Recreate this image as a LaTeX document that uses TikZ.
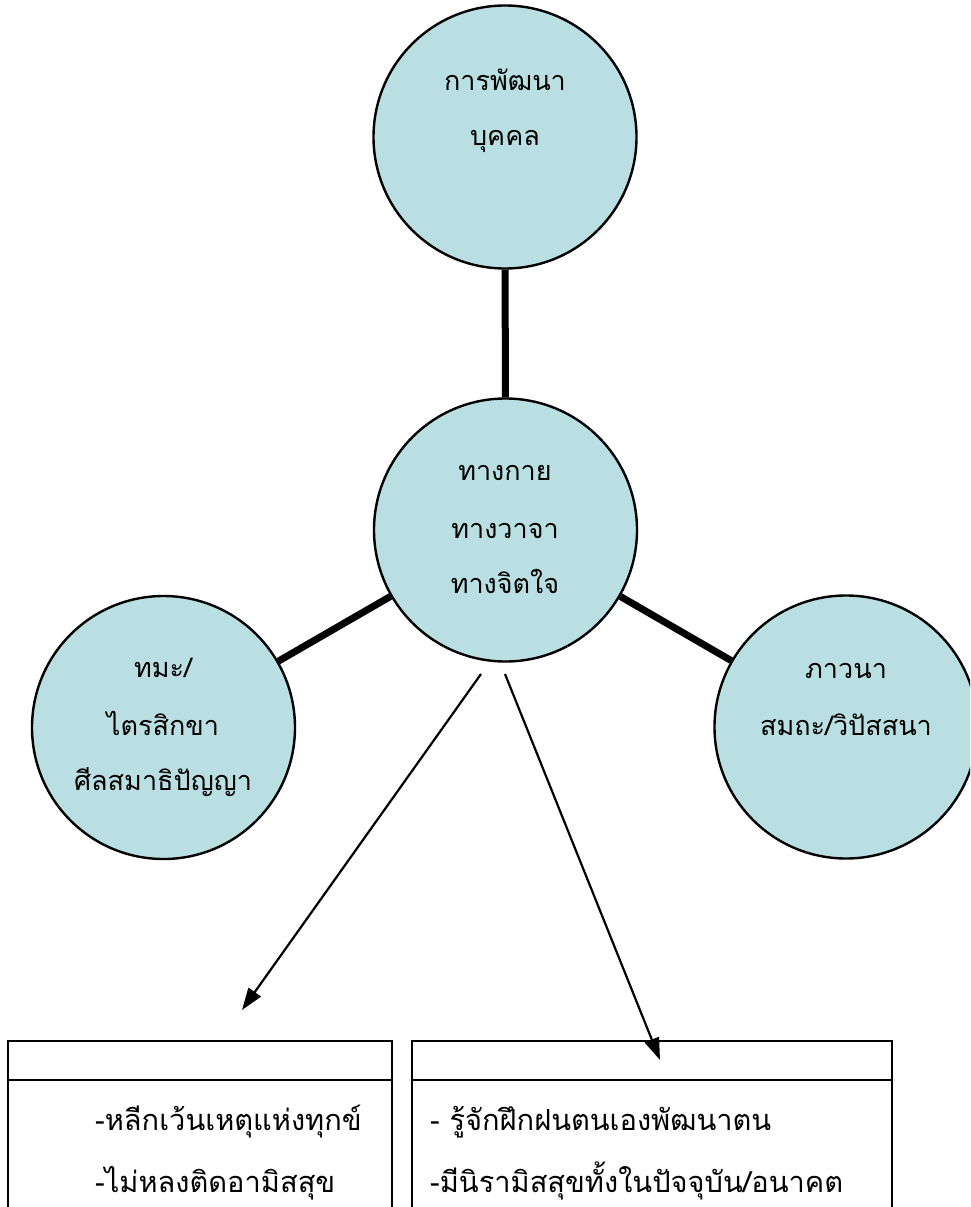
\documentclass[tikz,border=0pt]{standalone}
\usepackage{fontspec}
\newfontfamily\thaifont[Script=Thai]{Loma}
\usetikzlibrary{arrows.meta}
\definecolor{circfill}{RGB}{186,223,227}
\tikzset{
  bubble/.style={circle, draw=black, line width=2.4pt, fill=circfill, minimum size=263pt, inner sep=0pt},
  thick link/.style={line width=7pt},
  pointer/.style={line width=2.2pt, -{Triangle[length=22pt,width=15pt]}},
  boxline/.style={line width=2.4pt},
  txt/.style={font=\thaifont\fontsize{27}{30}\selectfont, anchor=base, inner sep=0pt},
  boxtxt/.style={font=\thaifont\fontsize{29}{32}\selectfont, anchor=base west, inner sep=0pt}
}
\begin{document}
\begin{tikzpicture}[x=1pt,y=-1pt]
\useasboundingbox (0,0) rectangle (970,1207);
\clip (0,0) rectangle (970,1207);
% circles
\node[bubble] (top) at (505,137) {};
\node[bubble] (mid) at (505.5,530) {};
\node[bubble] (left) at (163.5,727.5) {};
\node[bubble] (right) at (846,727) {};
% thick links
\draw[thick link] (top) -- (mid);
\draw[thick link] (mid) -- (left);
\draw[thick link] (mid) -- (right);
% texts
\node[txt] (t1) at (505,90) {การพัฒนา};
\node[txt] (t2) at (505,145) {บุคคล};
\node[txt] (m1) at (505,480) {ทางกาย};
\node[txt] (m2) at (505,538) {ทางวาจา};
\node[txt] (m3) at (505,593) {ทางจิตใจ};
\node[txt] (l1) at (163,677) {ทมะ/};
\node[txt] (l2) at (163,735) {ไตรสิกขา};
\node[txt] (l3) at (163,790) {ศีลสมาธิปัญญา};
\node[txt] (r1) at (846,678) {ภาวนา};
\node[txt] (r2) at (846,735) {สมถะ/วิปัสสนา};
% boxes
\coordinate (lbtl) at (8,1041);
\coordinate (lbtr) at (392,1041);
\coordinate (lbdl) at (8,1080);
\coordinate (lbdr) at (392,1080);
\coordinate (lbbl) at (8,1230);
\coordinate (lbbr) at (392,1230);
\draw[boxline] (lbbl) -- (lbtl) -- (lbtr) -- (lbbr);
\draw[boxline] (lbdl) -- (lbdr);
\coordinate (rbtl) at (412,1041);
\coordinate (rbtr) at (892,1041);
\coordinate (rbdl) at (412,1080);
\coordinate (rbdr) at (892,1080);
\coordinate (rbbl) at (412,1230);
\coordinate (rbbr) at (892,1230);
\draw[boxline] (rbbl) -- (rbtl) -- (rbtr) -- (rbbr);
\draw[boxline] (rbdl) -- (rbdr);
\node[boxtxt] (b1) at (95,1130) {-หลีกเว้นเหตุแห่งทุกข์};
\node[boxtxt] (b2) at (95,1192) {-ไม่หลงติดอามิสสุข};
\node[boxtxt] (b3) at (430,1130) {- รู้จักฝึกฝนตนเองพัฒนาตน};
\node[boxtxt] (b4) at (430,1192) {-มีนิรามิสสุขทั้งในปัจจุบัน/อนาคต};
% arrows
\coordinate (as1) at (481,674);
\coordinate (ae1) at (242,1010);
\coordinate (as2) at (505,674);
\coordinate (ae2) at (660,1060);
\draw[pointer] (as1) -- (ae1);
\draw[pointer] (as2) -- (ae2);
\end{tikzpicture}
\end{document}
